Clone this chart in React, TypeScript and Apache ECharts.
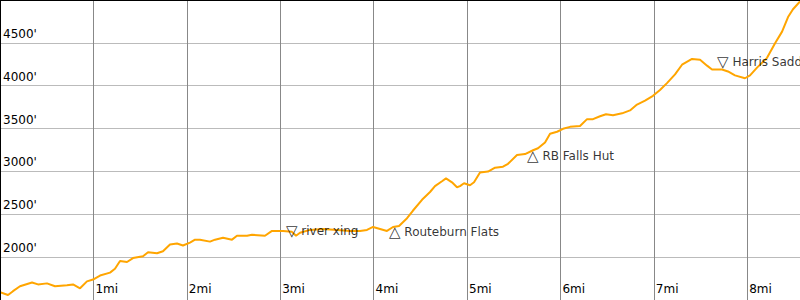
import React, { useEffect, useRef } from "react";
import * as echarts from "echarts";

// elevation profile (miles, feet)
const miles = [
  0, 0.086, 0.139, 0.214, 0.343, 0.407, 0.503, 0.589, 0.717, 0.782, 0.857, 0.931, 0.996,
  1.071, 1.178, 1.231, 1.285, 1.36, 1.424, 1.531, 1.585, 1.681, 1.745, 1.82, 1.895, 1.959,
  2.034, 2.088, 2.141, 2.248, 2.302, 2.388, 2.484, 2.537, 2.645, 2.698, 2.837, 2.912,
  3.03, 3.126, 3.169, 3.212, 3.319, 3.458, 3.608, 3.747, 3.854, 3.929, 3.994, 4.069,
  4.143, 4.208, 4.272, 4.358, 4.422, 4.518, 4.604, 4.657, 4.732, 4.775, 4.839, 4.893,
  4.925, 4.968, 5.032, 5.075, 5.139, 5.225, 5.3, 5.385, 5.439, 5.535, 5.621, 5.707, 5.76,
  5.835, 5.889, 5.964, 6.028, 6.103, 6.21, 6.285, 6.349, 6.424, 6.488, 6.563, 6.66, 6.745,
  6.82, 6.906, 6.991, 7.066, 7.141, 7.227, 7.302, 7.409, 7.495, 7.57, 7.623, 7.73, 7.794,
  7.869, 7.976, 8.03, 8.105, 8.212, 8.298, 8.373, 8.437, 8.49, 8.565,
];
const feet = [
  1592, 1558, 1603, 1660, 1705, 1682, 1694, 1660, 1671, 1682, 1637, 1717, 1739,
  1785, 1819, 1864, 1955, 1943, 1989, 2011, 2057, 2045, 2068, 2147, 2159, 2136,
  2170, 2204, 2204, 2181, 2204, 2227, 2204, 2249, 2249, 2261, 2249, 2306,
  2306, 2295, 2249, 2284, 2318, 2329, 2318, 2306, 2306, 2318, 2352, 2329,
  2306, 2352, 2363, 2454, 2544, 2669, 2760, 2828, 2885, 2919, 2873, 2816,
  2828, 2862, 2839, 2873, 2987, 2998, 3043, 3055, 3089, 3191, 3202, 3247, 3270,
  3338, 3440, 3463, 3497, 3520, 3531, 3610, 3610, 3644, 3667, 3656, 3678, 3712,
  3780, 3826, 3882, 3950, 4030, 4132, 4245, 4313, 4302, 4234, 4189, 4189, 4166,
  4121, 4087, 4121, 4211, 4325, 4495, 4631, 4801, 4892, 4982,
];

// waypoints
const markerNames = ["river xing", "Routeburn Flats", "RB Falls Hut", "Harris Saddle"];
const markerSymbols = ["▽", "△", "△", "▽"];
const markerMiles = [3.126, 4.229, 5.707, 7.741];
const markerFeet = [2230, 2363, 3247, 4210];

const xTicks = [1, 2, 3, 4, 5, 6, 7, 8];
const yTicks = [2000, 2500, 3000, 3500, 4000, 4500];

const FONT = "DejaVu Sans";

export default function App() {
  const ref = useRef<HTMLDivElement>(null);
  useEffect(() => {
    if (!ref.current) return;
    const chart = echarts.init(ref.current, undefined, { renderer: "svg" });
    const lineData = miles.map((m, i) => [m, feet[i]]);
    const markerData = markerNames.map((n, i) => {
      const down = markerSymbols[i] === "▽";
      return {
        value: [markerMiles[i], markerFeet[i]],
        name: n,
        label: {
          position: down ? [-6, -6] : [-6, 6],
          align: "left",
          verticalAlign: "middle",
        },
      };
    });
    chart.setOption({
      animation: false,
      backgroundColor: "#ffffff",
      grid: { left: 0, right: 0, top: -4.8, bottom: -4.1, containLabel: false },
      xAxis: {
        type: "value",
        min: 0,
        max: 8.565,
        interval: 1,
        axisLine: { show: false },
        axisTick: { show: false },
        splitLine: {
          show: true,
          lineStyle: { color: "#888888", width: 1 },
        },
        axisLabel: {
          inside: true,
          showMinLabel: false,
          showMaxLabel: false,
          margin: 5,
          align: "left",
          verticalAlign: "bottom",
          padding: [0, 0, 0, 2],
          color: "#000",
          fontSize: 12,
          fontFamily: FONT,
          formatter: (v: number) => (xTicks.includes(v) ? v + "mi" : ""),
        },
      },
      yAxis: {
        type: "value",
        min: 1500,
        max: 5000,
        interval: 500,
        axisLine: { show: false },
        axisTick: { show: false },
        splitLine: { show: true, lineStyle: { color: "#bbbbbb", width: 1 } },
        axisLabel: {
          inside: true,
          showMinLabel: false,
          showMaxLabel: false,
          margin: 3,
          align: "left",
          verticalAlign: "bottom",
          padding: [0, 0, 3, 0],
          color: "#000",
          fontSize: 12,
          fontFamily: FONT,
          formatter: (v: number) => (yTicks.includes(v) ? v + "'" : ""),
        },
      },
      series: [
        {
          type: "line",
          data: lineData,
          showSymbol: false,
          symbol: "none",
          lineStyle: { color: "#FFA500", width: 2 },
          z: 2,
        },
        {
          type: "scatter",
          data: markerData,
          symbolSize: 0,
          z: 3,
          label: {
            show: true,
            color: "#000",
            fontSize: 12,
            fontFamily: FONT,
            formatter: (p: any) =>
              "{t|" + markerSymbols[p.dataIndex] + "} " + markerNames[p.dataIndex],
            rich: {
              t: { fontSize: 15, fontFamily: FONT, color: "#000" },
            },
          },
        },
      ],
      graphic: [
        {
          type: "line",
          shape: { x1: 0.5, y1: 0, x2: 0.5, y2: 300 },
          style: { stroke: "#000", lineWidth: 1 },
          z: 10,
        },
        {
          type: "line",
          shape: { x1: 0, y1: 0.5, x2: 800, y2: 0.5 },
          style: { stroke: "#000", lineWidth: 1 },
          z: 10,
        },
      ],
    });
    return () => chart.dispose();
  }, []);
  return (
    <div
      ref={ref}
      style={{ position: "fixed", left: 0, top: 0, width: 800, height: 300, background: "#fff" }}
    />
  );
}
